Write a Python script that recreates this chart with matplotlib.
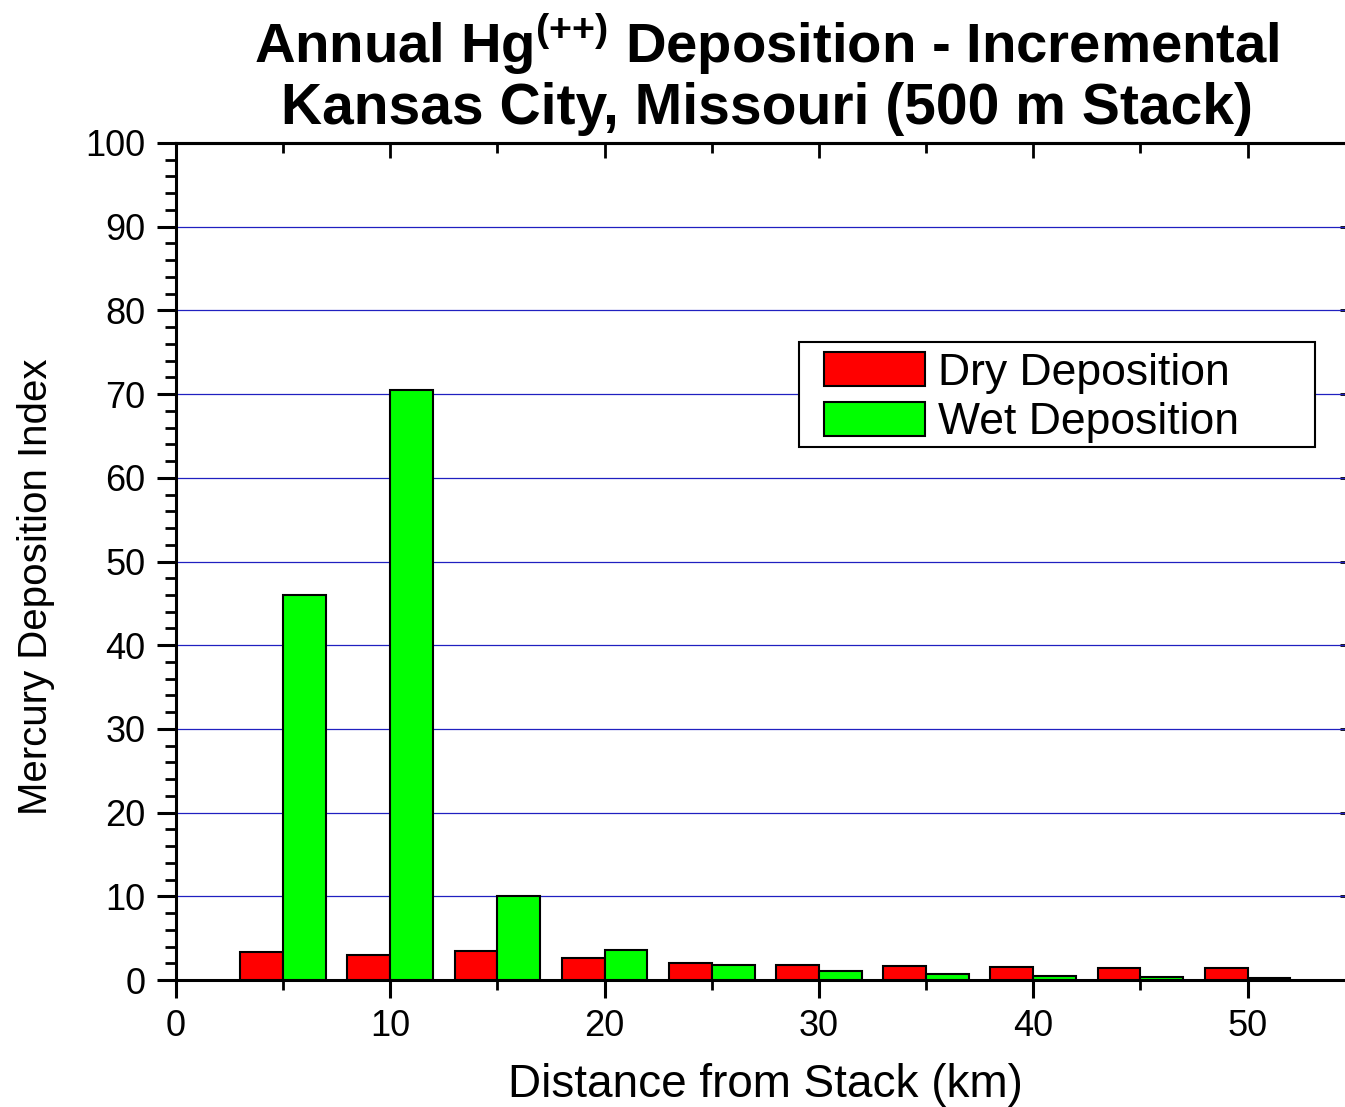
import numpy as np
import matplotlib
matplotlib.use("Agg")
import matplotlib.pyplot as plt
from matplotlib.patches import Rectangle
from matplotlib.ticker import MultipleLocator

# distancia al stack (km) y valores
distancia = [5, 10, 15, 20, 25, 30, 35, 40, 45, 50]
seca = [3.3, 2.95, 3.5, 2.6, 2.07, 1.8, 1.67, 1.55, 1.47, 1.47]
humeda = [46.0, 70.5, 10.0, 3.62, 1.75, 1.08, 0.68, 0.44, 0.32, 0.24]

plt.rcParams['font.family'] = ['Liberation Sans', 'DejaVu Sans']
plt.rcParams['mathtext.fontset'] = 'custom'
plt.rcParams['mathtext.rm'] = 'Liberation Sans'
plt.rcParams['mathtext.bf'] = 'Liberation Sans:bold'

W, H = 1345, 1107
fig = plt.figure(figsize=(W / 100, H / 100), dpi=100)
x0, x1, ytop, ybot = 176, 1354.7, 143, 980
ax = fig.add_axes([x0 / W, 1 - ybot / H, (x1 - x0) / W, (ybot - ytop) / H])


def a_ejes(px, py):
    # pixeles de la figura -> fraccion de los ejes
    return (px - x0) / (x1 - x0), (ybot - py) / (ybot - ytop)


x = np.array(distancia)
ax.bar(x - 1, seca, width=2, color='#ff0000', edgecolor='black', linewidth=1.5,
       label='Dry Deposition', zorder=3)
ax.bar(x + 1, humeda, width=2, color='#00ff00', edgecolor='black', linewidth=1.5,
       label='Wet Deposition', zorder=3)

ax.set_xlim(0, 55)
ax.set_ylim(0, 100)
ax.xaxis.set_major_locator(MultipleLocator(10))
ax.xaxis.set_minor_locator(MultipleLocator(5))
ax.yaxis.set_major_locator(MultipleLocator(10))
ax.yaxis.set_minor_locator(MultipleLocator(2))
ax.yaxis.grid(True, which='major', color='#2020c0', linewidth=0.9)
ax.set_axisbelow(True)

for lado in ['left', 'bottom', 'top']:
    ax.spines[lado].set_linewidth(2.2)
ax.spines['right'].set_visible(False)

ax.tick_params(axis='y', which='major', direction='out', length=14, width=2.2,
               labelsize=26, pad=8)
ax.tick_params(axis='y', which='minor', direction='out', length=8, width=2)
ax.tick_params(axis='x', which='major', direction='out', length=13, width=2.2,
               labelsize=26, pad=8)
ax.tick_params(axis='x', which='minor', direction='out', length=7, width=2)

# ejes secundarios para los ticks hacia adentro (arriba y derecha)
arriba = ax.secondary_xaxis('top')
arriba.xaxis.set_major_locator(MultipleLocator(10))
arriba.xaxis.set_minor_locator(MultipleLocator(5))
arriba.tick_params(which='major', direction='in', length=11, width=2, labeltop=False)
arriba.tick_params(which='minor', direction='in', length=7, width=2)
arriba.spines['top'].set_linewidth(2.2)

derecha = ax.secondary_yaxis('right')
derecha.yaxis.set_major_locator(MultipleLocator(10))
derecha.yaxis.set_minor_locator(MultipleLocator(2))
derecha.tick_params(which='major', direction='in', length=11, width=2, labelright=False)
derecha.tick_params(which='minor', direction='in', length=7, width=1, color='#999999')

ax.set_ylabel('Mercury Deposition Index', fontsize=29)
ax.yaxis.set_label_coords(*a_ejes(55, 587))
ax.set_xlabel('Distance from Stack (km)', fontsize=33)
ax.xaxis.set_label_coords(0.4997, a_ejes(0, 1063)[1])

# marco de la leyenda dibujado aparte
bx, by = a_ejes(799, 447)
bx2, by2 = a_ejes(1315, 342)
ax.add_patch(Rectangle((bx, by), bx2 - bx, by2 - by, transform=ax.transAxes,
                       facecolor='white', edgecolor='black', linewidth=1.5, zorder=4))
leg = ax.legend(loc='upper left', bbox_to_anchor=a_ejes(824, 352),
                fontsize=32, frameon=False, handlelength=2.27,
                handleheight=0.81, handletextpad=0.29, borderpad=0,
                labelspacing=0.18, borderaxespad=0)
leg.set_zorder(5)

cx = 767 / W
fig.text(cx, 1 - 62 / H, r'Annual Hg$^{\mathbf{({+}{+})}}$ Deposition - Incremental',
         ha='center', va='baseline', fontsize=40.5, fontweight='bold')
fig.text(cx, 1 - 124 / H, 'Kansas City, Missouri (500 m Stack)',
         ha='center', va='baseline', fontsize=41, fontweight='bold')

fig.savefig('out.png', dpi=100)
